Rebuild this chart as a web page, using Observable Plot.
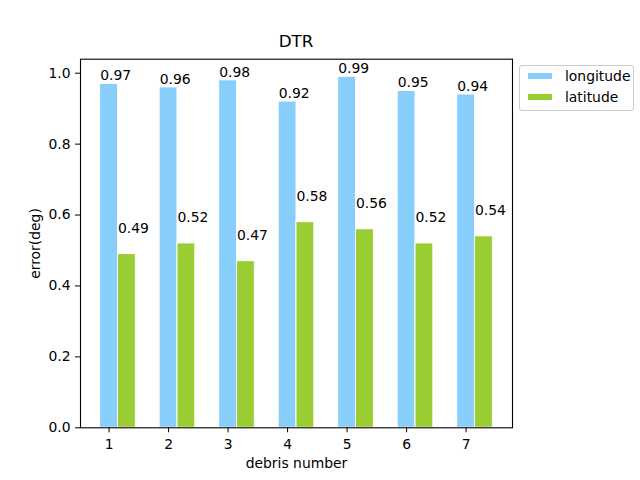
<!DOCTYPE html>
<html>
<head>
<meta charset="utf-8">
<script src="https://cdn.jsdelivr.net/npm/d3@7"></script>
<script src="https://cdn.jsdelivr.net/npm/@observablehq/plot@0.6"></script>
<style>
  body { margin: 0; background: #fff; }
  #wrap { position: relative; width: 640px; height: 480px; font-family: "DejaVu Sans", sans-serif; color: #000; }
  #chart { position: absolute; left: 0; top: 0; }
  #title { position: absolute; left: 80px; width: 432px; top: 33px; text-align: center; font-size: 16.7px; line-height: 1; }
  #legend { position: absolute; left: 519px; top: 65px; width: 113px; height: 44px; border: 1px solid #cccccc; border-radius: 3px; background: rgba(255,255,255,0.8); font-size: 13.9px; }
  .item { position: absolute; left: 7px; height: 16px; display: flex; align-items: center; }
  .sw { width: 26px; height: 8px; margin-right: 12px; box-sizing: border-box; border: 1px solid #fff; }
</style>
</head>
<body>
<div id="wrap">
  <div id="chart"></div>
  <div id="title">DTR</div>
  <div id="legend"></div>
</div>
<script>
const debris = [1, 2, 3, 4, 5, 6, 7];
const longitude = [0.97, 0.96, 0.98, 0.92, 0.99, 0.95, 0.94];
const latitude = [0.49, 0.52, 0.47, 0.58, 0.56, 0.52, 0.54];
const seriesNames = ["longitude", "latitude"];
const seriesColors = ["#87CEFA", "#9ACD32"];
const yTicks = [0, 0.2, 0.4, 0.6, 0.8, 1.0];
const barWidth = 0.3;

const rows = [];
debris.forEach((n, i) => {
  rows.push({n, series: "longitude", value: longitude[i], x1: n - barWidth / 2, x2: n + barWidth / 2});
  rows.push({n, series: "latitude", value: latitude[i], x1: n + barWidth / 2, x2: n + 1.5 * barWidth});
});

const chart = Plot.plot({
  width: 640,
  height: 480,
  marginLeft: 80,
  marginRight: 128,
  marginTop: 58.7,
  marginBottom: 52.7,
  style: {fontFamily: "DejaVu Sans", fontSize: "13.9px", color: "black", background: "white", overflow: "visible"},
  x: {domain: [0.52, 7.78]},
  y: {domain: [0, 1.0395]},
  color: {domain: seriesNames, range: seriesColors},
  marks: [
    Plot.rect(rows, {x1: "x1", x2: "x2", y1: 0, y2: "value", fill: "series", stroke: "white", strokeWidth: 1}),
    Plot.text(rows.filter(d => d.series === "longitude"), {x: "x1", y: "value", text: d => d.value.toFixed(2), textAnchor: "start", lineAnchor: "bottom", dy: -3.5, fill: "black", fontSize: 13.9}),
    Plot.text(rows.filter(d => d.series === "latitude"), {x: "x1", y: "value", text: d => d.value.toFixed(2), textAnchor: "start", lineAnchor: "bottom", dy: -21, fill: "black", fontSize: 13.9}),
    Plot.frame({stroke: "black", strokeWidth: 1.1}),
    Plot.axisX({ticks: debris, tickFormat: d => String(d), tickSize: 5, tickPadding: 6, stroke: "black", label: "debris number", labelAnchor: "center", labelArrow: "none", labelOffset: 40}),
    Plot.axisY({ticks: yTicks, tickFormat: d => d.toFixed(1), tickSize: 5, tickPadding: 5, stroke: "black", label: "error(deg)", labelAnchor: "center", labelArrow: "none", labelOffset: 50})
  ]
});
document.getElementById("chart").appendChild(chart);

const legend = document.getElementById("legend");
seriesNames.forEach((name, i) => {
  const item = document.createElement("div");
  item.className = "item";
  item.style.top = (2 + i * 21) + "px";
  const sw = document.createElement("div");
  sw.className = "sw";
  sw.style.background = seriesColors[i];
  const label = document.createElement("span");
  label.textContent = name;
  item.appendChild(sw);
  item.appendChild(label);
  legend.appendChild(item);
});
</script>
</body>
</html>
